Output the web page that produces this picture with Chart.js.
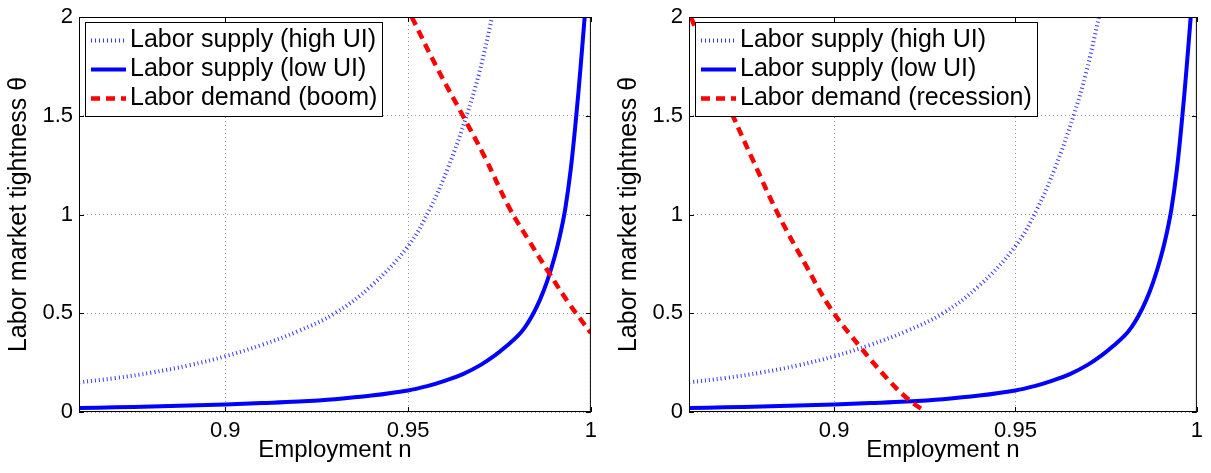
<!DOCTYPE html>
<html>
<head>
<meta charset="utf-8">
<script src="https://cdn.jsdelivr.net/npm/chart.js@4.4.1/dist/chart.umd.min.js"></script>
<style>
  body { margin: 0; background: #fff; }
  #grafIzq { position: absolute; left: 0; top: 0; }
  #grafDer { position: absolute; left: 610px; top: 0; }
</style>
</head>
<body>
<canvas id="grafIzq" width="605" height="473"></canvas>
<canvas id="grafDer" width="601" height="473"></canvas>
<script>
// Valores (empleo n, estrechez theta)
const empleoAlto = [0.86, 0.87, 0.88, 0.89, 0.90, 0.91, 0.92, 0.93, 0.94, 0.95, 0.956, 0.961, 0.966, 0.9695, 0.973];
const thetaAlto = [0.15, 0.172, 0.2, 0.236, 0.282, 0.34, 0.41, 0.5, 0.64, 0.84, 1.03, 1.24, 1.5, 1.72, 2.0];

const empleoBajo = [0.86, 0.87, 0.88, 0.89, 0.90, 0.91, 0.92, 0.93, 0.94, 0.95, 0.955, 0.96, 0.965, 0.97, 0.974, 0.977, 0.98, 0.982, 0.984, 0.986, 0.988, 0.99, 0.9915, 0.993, 0.9945, 0.996, 0.9972, 0.9983];
const thetaBajo = [0.02, 0.024, 0.028, 0.033, 0.038, 0.045, 0.053, 0.065, 0.083, 0.109, 0.13, 0.158, 0.192, 0.24, 0.29, 0.335, 0.385, 0.43, 0.49, 0.565, 0.66, 0.78, 0.89, 1.03, 1.23, 1.5, 1.75, 2.0];

const empleoAuge = [0.951, 0.958, 0.965, 0.971, 0.9778, 0.983, 0.9887, 0.994, 1.0];
const thetaAuge = [2.0, 1.74, 1.5, 1.29, 1.03, 0.87, 0.70, 0.55, 0.40];

const empleoRecesion = [0.8605, 0.866, 0.8721, 0.878, 0.8846, 0.892, 0.8992, 0.9074, 0.9147, 0.9202, 0.9252];
const thetaRecesion = [2.0, 1.76, 1.5, 1.26, 1.0, 0.75, 0.52, 0.325, 0.168, 0.068, 0.0];

// Ticks y etiquetas
const ticksX = [0.9, 0.95, 1];
const etiquetasX = ["0.9", "0.95", "1"];
const ticksY = [0, 0.5, 1, 1.5, 2];
const etiquetasY = ["0", "0.5", "1", "1.5", "2"];

const nombreAlto = "Labor supply (high UI)";
const nombreBajo = "Labor supply (low UI)";
const nombreAuge = "Labor demand (boom)";
const nombreRecesion = "Labor demand (recession)";

const FUENTE = '"Liberation Sans", Arial, Helvetica, sans-serif';
Chart.defaults.font.family = FUENTE;
Chart.defaults.color = "#000";

function puntos(xs, ys) {
  return xs.map((x, i) => ({ x: x, y: ys[i] }));
}

// Dibuja el marco, los ticks hacia adentro y la leyenda
const marcoYLeyenda = {
  id: "marcoYLeyenda",
  afterDraw(chart) {
    const ctx = chart.ctx;
    const a = chart.chartArea;
    const sx = chart.scales.x;
    const sy = chart.scales.y;
    ctx.save();
    ctx.strokeStyle = "#000";
    ctx.lineWidth = 1;
    ctx.setLineDash([]);
    ctx.strokeRect(a.left + 0.5, a.top + 0.5, a.right - a.left - 1, a.bottom - a.top - 1);

    ctx.beginPath();
    ticksX.forEach((v) => {
      const px = Math.round(sx.getPixelForValue(v)) + 0.5;
      ctx.moveTo(px, a.bottom);
      ctx.lineTo(px, a.bottom - 5);
      ctx.moveTo(px, a.top);
      ctx.lineTo(px, a.top + 5);
    });
    ticksY.forEach((v) => {
      const py = Math.round(sy.getPixelForValue(v)) + 0.5;
      ctx.moveTo(a.left, py);
      ctx.lineTo(a.left + 5, py);
      ctx.moveTo(a.right, py);
      ctx.lineTo(a.right - 5, py);
    });
    ctx.stroke();

    // leyenda
    ctx.font = "25px " + FUENTE;
    const series = chart.data.datasets;
    const anchoTexto = Math.max(...series.map((d) => ctx.measureText(d.label).width));
    const x0 = Math.round(a.left) + 6;
    const y0 = Math.round(a.top) + 5;
    const ancho = Math.round(45 + anchoTexto + 5);
    const alto = 94;
    ctx.fillStyle = "#fff";
    ctx.fillRect(x0, y0, ancho, alto);
    ctx.strokeStyle = "#000";
    ctx.strokeRect(x0 + 0.5, y0 + 0.5, ancho, alto);
    series.forEach((d, i) => {
      const yc = y0 + 18.5 + i * 29;
      ctx.save();
      ctx.strokeStyle = d.borderColor;
      ctx.lineWidth = d.borderWidth;
      ctx.lineCap = "butt";
      ctx.setLineDash(d.borderDash || []);
      ctx.beginPath();
      ctx.moveTo(x0 + 6, yc);
      ctx.lineTo(x0 + 41, yc);
      ctx.stroke();
      ctx.restore();
      ctx.fillStyle = "#000";
      ctx.textBaseline = "middle";
      ctx.textAlign = "left";
      ctx.fillText(d.label, x0 + 45, yc);
    });
    ctx.restore();
  },
};

function crearGrafico(idCanvas, nombreDemanda, empleoDemanda, thetaDemanda, padDerecho) {
  const estiloGrid = { color: "#9a9a9a", lineWidth: 1, drawTicks: false };
  return new Chart(document.getElementById(idCanvas), {
    type: "line",
    data: {
      datasets: [
        {
          label: nombreAlto,
          data: puntos(empleoAlto, thetaAlto),
          borderColor: "rgb(55,55,255)",
          borderWidth: 4,
          borderDash: [1, 3],
          borderCapStyle: "butt",
          tension: 0.4,
          pointRadius: 0,
          order: 3,
        },
        {
          label: nombreBajo,
          data: puntos(empleoBajo, thetaBajo),
          borderColor: "#0000ff",
          borderWidth: 4,
          tension: 0.4,
          pointRadius: 0,
          order: 2,
        },
        {
          label: nombreDemanda,
          data: puntos(empleoDemanda, thetaDemanda),
          borderColor: "#ff0000",
          borderWidth: 4.5,
          borderDash: [9, 6],
          borderCapStyle: "butt",
          tension: 0.4,
          pointRadius: 0,
          order: 1,
        },
      ],
    },
    options: {
      responsive: false,
      animation: false,
      events: [],
      clip: 0,
      layout: { padding: { top: 10, right: padDerecho, left: 0, bottom: 0 } },
      plugins: { legend: { display: false }, tooltip: { enabled: false } },
      scales: {
        x: {
          type: "linear",
          min: 0.86,
          max: 1,
          afterBuildTicks: (s) => { s.ticks = ticksX.map((v) => ({ value: v })); },
          afterFit: (s) => { s.height = 61; },
          grid: estiloGrid,
          border: { display: false, dash: [1, 3] },
          ticks: {
            padding: 8,
            maxRotation: 0,
            autoSkip: false,
            font: { size: 22, lineHeight: 1 },
            callback: (v) => etiquetasX[ticksX.indexOf(v)],
          },
          title: {
            display: true,
            text: "Employment n",
            font: { size: 24, lineHeight: 1 },
            padding: { top: 0, bottom: 11 },
          },
        },
        y: {
          type: "linear",
          min: 0,
          max: 2,
          afterBuildTicks: (s) => { s.ticks = ticksY.map((v) => ({ value: v })); },
          afterFit: (s) => { s.width = 79; },
          grid: estiloGrid,
          border: { display: false, dash: [1, 3] },
          ticks: {
            padding: 6,
            autoSkip: false,
            font: { size: 22, lineHeight: 1 },
            callback: (v) => etiquetasY[ticksY.indexOf(v)],
          },
          title: {
            display: true,
            text: "Labor market tightness θ",
            font: { size: 25, lineHeight: 1 },
            padding: { top: 7, bottom: 0 },
          },
        },
      },
    },
    plugins: [marcoYLeyenda],
  });
}

crearGrafico("grafIzq", nombreAuge, empleoAuge, thetaAuge, 14);
crearGrafico("grafDer", nombreRecesion, empleoRecesion, thetaRecesion, 10);
</script>
</body>
</html>
